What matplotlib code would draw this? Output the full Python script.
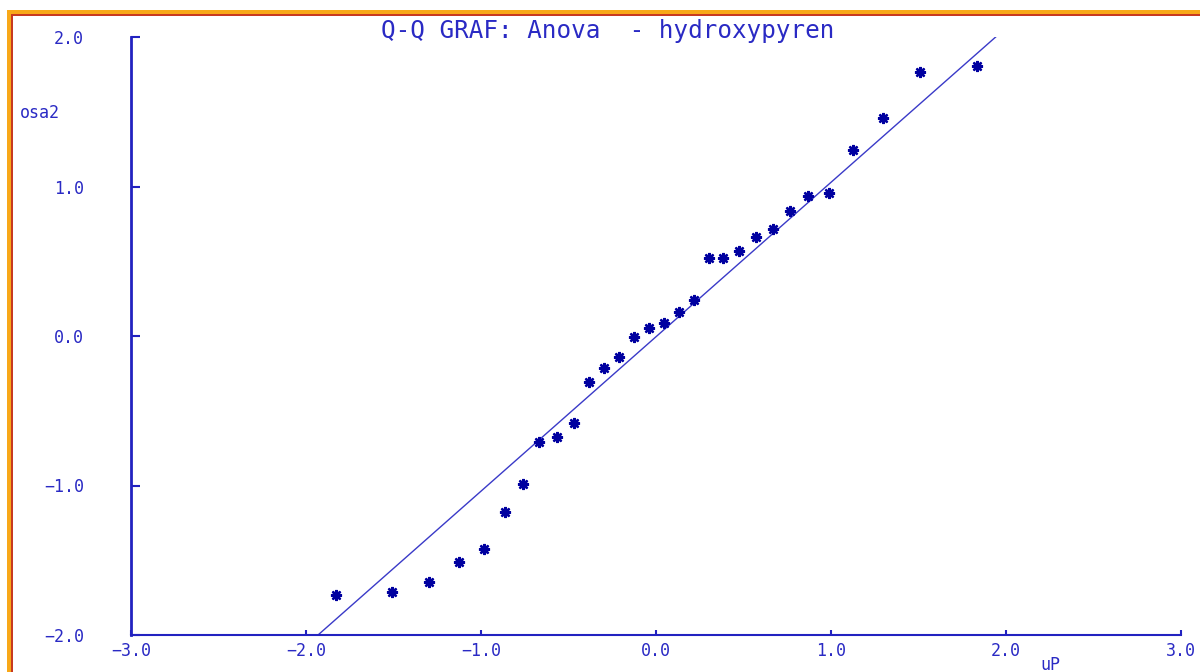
import matplotlib
matplotlib.use("Agg")
import matplotlib.pyplot as plt
from matplotlib.patches import Rectangle
from matplotlib.ticker import FuncFormatter

W, H = 1200, 672

# theoretical normal quantiles (x) vs. standardized values (y)
uP = [-1.829, -1.509, -1.297, -1.126, -0.983, -0.863, -0.760, -0.669, -0.566,
      -0.469, -0.383, -0.297, -0.211, -0.126, -0.040, 0.046, 0.131, 0.217,
      0.303, 0.383, 0.474, 0.571, 0.669, 0.766, 0.869, 0.989, 1.126, 1.297,
      1.509, 1.834]
osa2 = [-1.732, -1.712, -1.645, -1.512, -1.425, -1.177, -0.990, -0.709, -0.676,
        -0.582, -0.308, -0.214, -0.140, -0.007, 0.054, 0.087, 0.161, 0.241,
        0.522, 0.522, 0.569, 0.662, 0.716, 0.836, 0.936, 0.957, 1.244, 1.458,
        1.766, 1.806]

fit_slope = 1.033
fit_intercept = -0.005

x_ticks = [-3.0, -2.0, -1.0, 0.0, 1.0, 2.0, 3.0]
y_ticks = [-2.0, -1.0, 0.0, 1.0, 2.0]

title = "Q-Q GRAF: Anova  - hydroxypyren"
mono = "DejaVu Sans Mono"
txt_col = "#2a2ac4"
axis_col = "#2222c0"

fig = plt.figure(figsize=(W / 100, H / 100), dpi=100)
fig.patch.set_facecolor("white")
ax = fig.add_axes([131 / W, 37 / H, (1181 - 131) / W, (635 - 37) / H])
ax.set_xlim(x_ticks[0], x_ticks[-1])
ax.set_ylim(y_ticks[0], y_ticks[-1])

# fitted line, clipped to the y range of the plot
y0, y1 = y_ticks[0], y_ticks[-1]
line_x = [(y0 - fit_intercept) / fit_slope, (y1 - fit_intercept) / fit_slope]
ax.plot(line_x, [y0, y1], color="#3a3ac8", lw=1.0)

ax.plot(uP, osa2, linestyle="none", marker=(8, 2, 0), ms=8, mew=1.7,
        color="#0000a0")

for s in ("top", "right"):
    ax.spines[s].set_visible(False)
ax.spines["left"].set_linewidth(2.0)
ax.spines["bottom"].set_linewidth(1.5)
for s in ("left", "bottom"):
    ax.spines[s].set_color(axis_col)

fmt = FuncFormatter(lambda v, p: ("%.1f" % v).replace("-", "\u2212"))
ax.set_xticks(x_ticks)
ax.set_yticks(y_ticks)
ax.xaxis.set_major_formatter(fmt)
ax.yaxis.set_major_formatter(fmt)
ax.tick_params(axis="y", direction="in", length=6.5, width=1.5, pad=34,
               color=axis_col, labelcolor=txt_col, labelsize=12)
ax.tick_params(axis="x", direction="in", length=3.6, width=1.5, pad=5,
               color=axis_col, labelcolor=txt_col, labelsize=12)
for lab in ax.get_xticklabels() + ax.get_yticklabels():
    lab.set_family(mono)

fig.text(608 / W, 1 - 31 / H, title, ha="center", va="center",
         fontsize=17.5, family=mono, color=txt_col)
fig.text(20 / W, 1 - 113 / H, "osa2", ha="left", va="center",
         fontsize=12, family=mono, color=txt_col)
fig.text(1050 / W, 1 - 665 / H, "uP", ha="center", va="center",
         fontsize=12, family=mono, color=txt_col)

# orange window frame (cropped on the right and bottom)
orange, red = "#f8a818", "#c83a20"
tf = fig.transFigure
fig.add_artist(Rectangle((7 / W, 1 - 14 / H), (W - 7) / W, 4 / H,
                         color=orange, transform=tf, lw=0))
fig.add_artist(Rectangle((11 / W, 1 - 15.5 / H), (W - 11) / W, 1.5 / H,
                         color=red, transform=tf, lw=0))
fig.add_artist(Rectangle((7 / W, 0), 4 / W, (H - 10) / H,
                         color=orange, transform=tf, lw=0))
fig.add_artist(Rectangle((11 / W, 0), 1.5 / W, (H - 14) / H,
                         color=red, transform=tf, lw=0))

fig.savefig("out.png", dpi=100)
